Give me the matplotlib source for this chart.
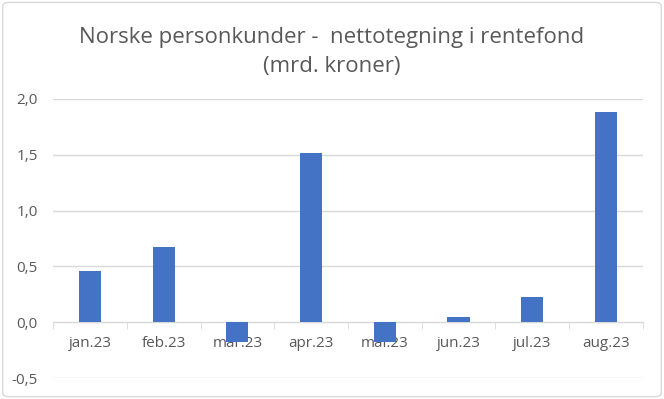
# Nettotegning i rentefond, norske personkunder
import numpy as np
import matplotlib.pyplot as plt
from matplotlib.patches import FancyBboxPatch
from matplotlib.ticker import FuncFormatter

plt.rcParams['font.family'] = ['Open Sans', 'DejaVu Sans']

# Data
maaneder = ['jan.23', 'feb.23', 'mar.23', 'apr.23', 'mai.23', 'jun.23', 'jul.23', 'aug.23']
netto = [0.46, 0.67, -0.18, 1.52, -0.18, 0.045, 0.225, 1.88]
y_ticks = [-0.5, 0.0, 0.5, 1.0, 1.5, 2.0]

tekst_farge = '#595959'
grid_farge = '#d9d9d9'
bar_farge = '#4472c4'

fig = plt.figure(figsize=(6.64, 3.99), dpi=100)
ax = fig.add_axes([0.08, 0.0526, 0.888, 0.6994])

x = np.arange(len(maaneder))
ax.bar(x, netto, width=0.3, color=bar_farge, zorder=3)

ax.set_xlim(-0.5, len(maaneder) - 0.5)
ax.set_ylim(-0.5, 2.0)
ax.set_yticks(y_ticks)
ax.yaxis.set_major_formatter(FuncFormatter(lambda v, p: f'{v:.1f}'.replace('.', ',')))
ax.grid(axis='y', color=grid_farge, linewidth=1, zorder=0)
ax.tick_params(axis='y', length=0, labelsize=11, colors=tekst_farge, pad=11)

# kategoriakse ved null
for s in ['left', 'right', 'top']:
    ax.spines[s].set_visible(False)
ax.spines['bottom'].set_position(('data', 0))
ax.spines['bottom'].set_color(grid_farge)
ax.spines['bottom'].set_zorder(2)
ax.set_xticks(x)
ax.set_xticklabels(maaneder)
ax.set_xticks(np.arange(-0.5, len(maaneder)), minor=True)
ax.tick_params(axis='x', which='major', length=0, labelsize=11, colors=tekst_farge, pad=10)
ax.tick_params(axis='x', which='minor', length=5, color=grid_farge, direction='out')
for lab in ax.get_xticklabels():
    lab.set_zorder(4)

fig.text(0.5, 0.905, 'Norske personkunder -  nettotegning i rentefond',
         ha='center', va='center', fontsize=16, color=tekst_farge)
fig.text(0.5, 0.834, '(mrd. kroner)', ha='center', va='center',
         fontsize=16, color=tekst_farge)

# ramme rundt figuren
ramme = FancyBboxPatch((0.004, 0.006), 0.992, 0.988, boxstyle='round,pad=0,rounding_size=0.01',
                       transform=fig.transFigure, fill=False, edgecolor='#d9d9d9', linewidth=1)
fig.patches.append(ramme)

fig.savefig('out.png', dpi=100)
